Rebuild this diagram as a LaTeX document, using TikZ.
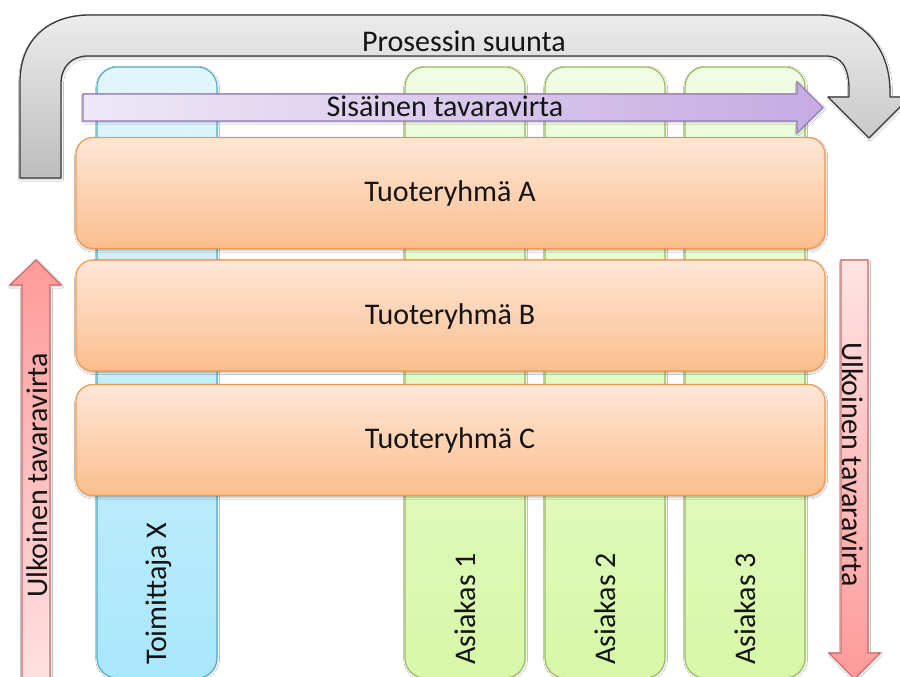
\documentclass[tikz,border=0pt]{standalone}
\usepackage{fontspec}
\setmainfont{Carlito}
\usetikzlibrary{shadows.blur}
\definecolor{txt}{HTML}{141414}
\definecolor{greyT}{HTML}{ECECEC}
\definecolor{greyB}{HTML}{BDBDBD}
\definecolor{greyL}{HTML}{3A3A3A}
\definecolor{purL}{HTML}{EEE8F7}
\definecolor{purR}{HTML}{C5ABE2}
\definecolor{purD}{HTML}{9479B8}
\definecolor{blueT}{HTML}{E2F6FC}
\definecolor{blueB}{HTML}{A9E7FB}
\definecolor{blueD}{HTML}{4BACC6}
\definecolor{greenT}{HTML}{F0FCE4}
\definecolor{greenB}{HTML}{D7F8A8}
\definecolor{greenD}{HTML}{9BBB59}
\definecolor{orT}{HTML}{FEE7D8}
\definecolor{orB}{HTML}{FBBE8D}
\definecolor{orD}{HTML}{F79646}
\definecolor{redS}{HTML}{FF9A9A}
\definecolor{redL}{HTML}{FFE4E4}
\definecolor{redD}{HTML}{CC6A6A}
\tikzset{
  lbl/.style={font=\fontsize{30}{36}\selectfont, text=txt, inner sep=0pt},
  colbox/.style={rounded corners=20pt, line width=1.1pt, minimum width=120pt, minimum height=611pt,
    blur shadow={shadow xshift=0.6pt, shadow yshift=-1pt, shadow blur steps=4, shadow opacity=20}},
  suppl/.style={colbox, draw=blueD, top color=blueT, bottom color=blueB},
  cust/.style={colbox, draw=greenD, top color=greenT, bottom color=greenB},
  group/.style={rounded corners=17pt, line width=1.1pt, draw=orD, top color=orT, bottom color=orB,
    minimum width=749pt, minimum height=111pt,
    blur shadow={shadow xshift=0.6pt, shadow yshift=-1.6pt, shadow blur steps=5, shadow opacity=30}},
  flowshade/.style={blur shadow={shadow xshift=0.6pt, shadow yshift=-1.2pt, shadow blur steps=4, shadow opacity=25}}
}
\begin{document}
\begin{tikzpicture}[x=1pt,y=-1pt]
\useasboundingbox (0,0) rectangle (900,677);
\fill[white] (0,0) rectangle (900,677);

% process direction arrow (grey U)
\draw[greyL, line width=1.3pt, top color=greyT, bottom color=greyB, line join=round, flowshade]
  (20,178) -- (20,82) .. controls (20,40) and (48,15) .. (90,15)
  -- (818,15) .. controls (860,15) and (890,45) .. (890,92)
  -- (890,97) -- (910,97) -- (869,138) -- (828,97) -- (849,97) -- (849,90)
  .. controls (849,68) and (842,56) .. (826,56)
  -- (88,56) .. controls (72,56) and (61,66) .. (61,84)
  -- (61,178) -- cycle;
\node[lbl] (proc) at (464,41) {Prosessin suunta};

% columns
\node[suppl] (sup) at (157,372.5) {};
\node[cust] (c1) at (465,372.5) {};
\node[cust] (c2) at (605,372.5) {};
\node[cust] (c3) at (745,372.5) {};

% internal flow arrow
\draw[purD, line width=1.1pt, left color=purL, right color=purR, line join=miter, flowshade]
  (83,94) -- (797,94) -- (797,82) -- (823,107.5) -- (797,133) -- (797,121) -- (83,121) -- cycle;
\node[lbl] (int) at (445,106) {Sisäinen tavaravirta};

% product groups
\node[group] (ga) at (450.5,193) {};
\node[group] (gb) at (450.5,315.5) {};
\node[group] (gc) at (450.5,440) {};
\node[lbl, anchor=base] (ta) at (450,201) {Tuoteryhmä A};
\node[lbl, anchor=base] (tb) at (450,324) {Tuoteryhmä B};
\node[lbl, anchor=base] (tc) at (450,448) {Tuoteryhmä C};

% column labels
\node[lbl, rotate=90, anchor=base west] (lsup) at (166,665) {Toimittaja X};
\node[lbl, rotate=90, anchor=base west] (l1) at (475,665) {Asiakas 1};
\node[lbl, rotate=90, anchor=base west] (l2) at (615,665) {Asiakas 2};
\node[lbl, rotate=90, anchor=base west] (l3) at (755,665) {Asiakas 3};

% external flow arrows
\draw[redD, line width=1.1pt, top color=redS, bottom color=redL, line join=miter, flowshade]
  (22,695) -- (22,285) -- (10,285) -- (36,260) -- (61,285) -- (50,285) -- (50,695) -- cycle;
\node[lbl, rotate=90, anchor=base west] (extl) at (47,598) {Ulkoinen tavaravirta};

\draw[redD, line width=1.1pt, top color=redL, bottom color=redS, line join=miter, flowshade]
  (841,260) -- (868,260) -- (868,653) -- (880,653) -- (854.5,679) -- (829,653) -- (841,653) -- cycle;
\node[lbl, rotate=-90, anchor=base west] (extr) at (842,342) {Ulkoinen tavaravirta};
\end{tikzpicture}
\end{document}
